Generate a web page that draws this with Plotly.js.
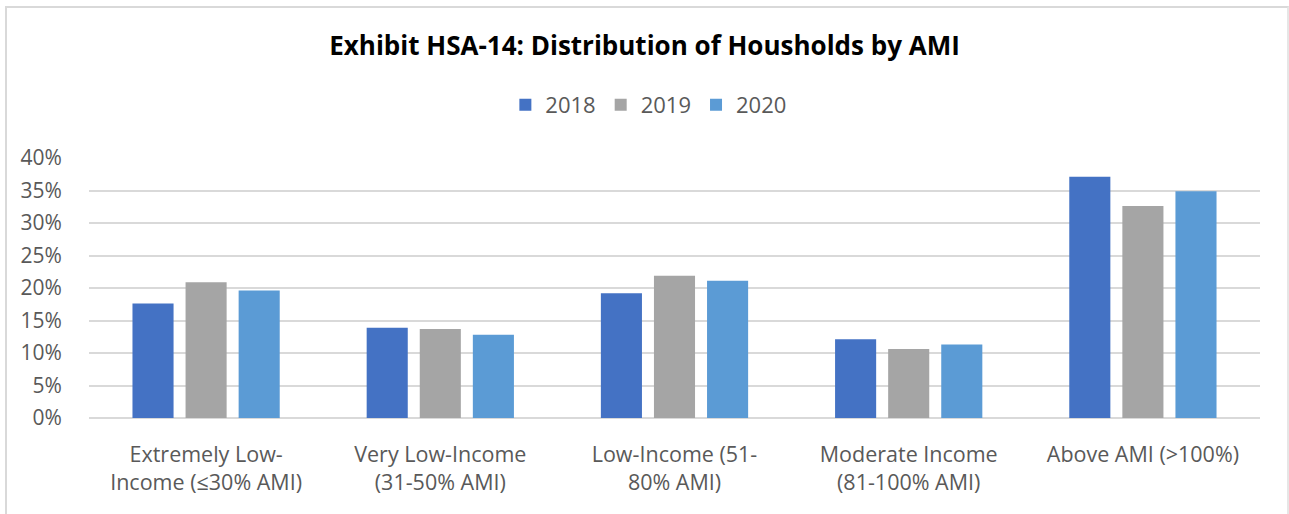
<!DOCTYPE html>
<html>
<head>
<meta charset="utf-8">
<script src="https://cdn.plot.ly/plotly-3.0.1.min.js"></script>
<style>
  html, body { margin: 0; padding: 0; background: #fff; }
  #frame { position: absolute; left: 5px; top: 6px; width: 1284px; height: 520px;
           border-left: 2px solid #d9d9d9; border-top: 2px solid #d9d9d9; border-right: 2px solid #e6e6e6; box-sizing: border-box; }
  #chart { position: absolute; left: 0; top: 0; width: 1289px; height: 514px; }
</style>
</head>
<body>
<div id="frame"></div>
<div id="chart"></div>
<script>
const categories = [
  "Extremely Low-<br>Income (≤30% AMI)",
  "Very Low-Income<br>(31-50% AMI)",
  "Low-Income (51-<br>80% AMI)",
  "Moderate Income<br>(81-100% AMI)",
  "Above AMI (>100%)"
];
const years = ["2018", "2019", "2020"];
const values2018 = [0.176, 0.139, 0.192, 0.121, 0.371];
const values2019 = [0.209, 0.137, 0.219, 0.106, 0.326];
const values2020 = [0.196, 0.128, 0.211, 0.113, 0.349];
const yTicks = [0, 0.05, 0.10, 0.15, 0.20, 0.25, 0.30, 0.35, 0.40];
const yTickLabels = ["0%", "5%", "10%", "15%", "20%", "25%", "30%", "35%", "40%"];
const colors = ["#4472C4", "#A5A5A5", "#5B9BD5"];

const series = [values2018, values2019, values2020];
const traces = series.map((vals, i) => ({
  type: "bar",
  name: years[i],
  x: categories,
  y: vals,
  marker: { color: colors[i], line: { width: 0 } },
  hoverinfo: "x+y+name"
}));

const font = "'Open Sans', 'Noto Sans', sans-serif";
const layout = {
  width: 1289, height: 514,
  paper_bgcolor: "rgba(0,0,0,0)",
  plot_bgcolor: "rgba(0,0,0,0)",
  margin: { l: 89, r: 29, t: 158, b: 96, pad: 0 },
  barmode: "group",
  bargap: 0.32,
  bargroupgap: 0.226,
  title: {
    text: "<b>Exhibit HSA-14: Distribution of Housholds by AMI</b>",
    font: { family: font, size: 26, color: "#000000" },
    x: 0.5, xref: "container", xanchor: "center",
    y: 1 - 46 / 514, yref: "container", yanchor: "middle"
  },
  showlegend: true,
  legend: {
    orientation: "h",
    x: 0.503, xref: "container", xanchor: "center",
    y: 1 - 105 / 514, yref: "container", yanchor: "middle",
    font: { family: font, size: 22, color: "#595959" },
    itemwidth: 30,
    traceorder: "normal"
  },
  xaxis: {
    type: "category",
    tickfont: { family: font, size: 21.5, color: "#595959" },
    showgrid: false,
    showline: false,
    ticks: "outside",
    ticklen: 17,
    tickcolor: "rgba(0,0,0,0)",
    automargin: false
  },
  yaxis: {
    range: [0, 0.4],
    tickvals: yTicks,
    ticktext: yTickLabels,
    tickfont: { family: font, size: 21, color: "#595959" },
    showgrid: true,
    gridcolor: "#d9d9d9",
    gridwidth: 1.5,
    zeroline: true,
    zerolinecolor: "#d9d9d9",
    zerolinewidth: 1.5,
    showline: false,
    ticks: "outside",
    ticklen: 22,
    tickcolor: "rgba(0,0,0,0)",
    automargin: false,
    fixedrange: true
  }
};

Plotly.newPlot("chart", traces, layout, { displayModeBar: false });
</script>
</body>
</html>
